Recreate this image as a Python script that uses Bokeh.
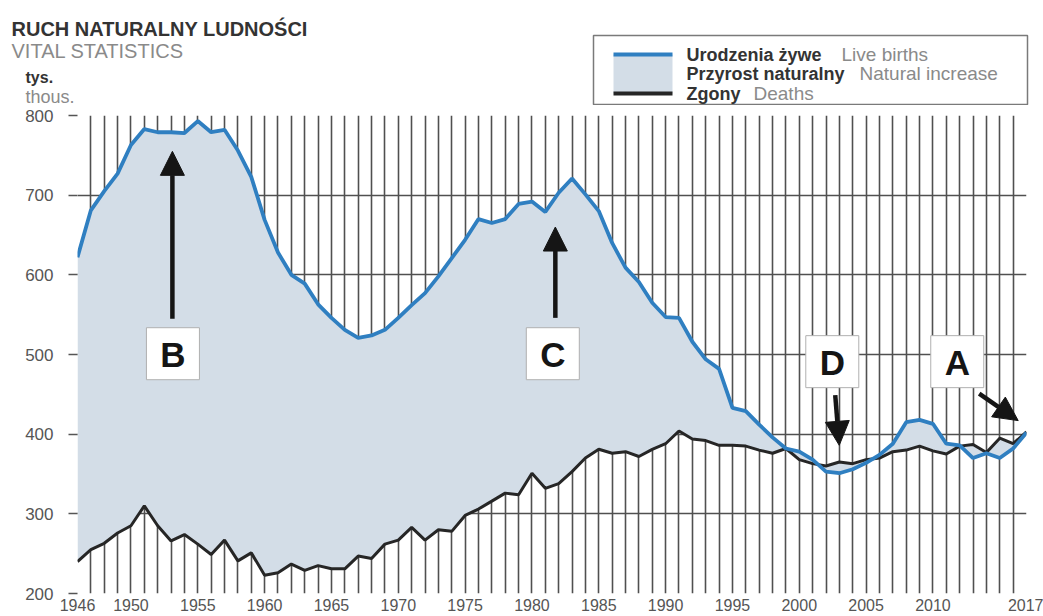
from bokeh.plotting import figure
from bokeh.models import (FixedTicker, Arrow, NormalHead, ColumnDataSource, Range1d)
from bokeh.layouts import column
from bokeh.embed import file_html
from bokeh.resources import INLINE
from bokeh.core.properties import value

# ---------------- data (thousands) ----------------
years = list(range(1946, 2018))
births = [622, 681, 705, 727, 763, 783, 779, 779, 778, 793, 779, 782, 756, 723,
          669, 628, 600, 589, 563, 546, 531, 521, 524, 531, 546, 562, 577, 598,
          621, 644, 670, 665, 670, 689, 692, 679, 703, 721, 701, 680, 640, 609,
          591, 565, 547, 546, 516, 494, 482, 433, 429, 412, 396, 382, 378, 368,
          353, 351, 356, 364, 374, 388, 415, 418, 413, 388, 386, 370, 376, 370,
          382, 402]
deaths = [240, 255, 263, 276, 285, 310, 285, 266, 274, 262, 249, 267, 241, 251,
          223, 226, 237, 229, 235, 231, 231, 247, 244, 262, 267, 283, 267, 280,
          278, 298, 306, 316, 326, 324, 351, 332, 338, 353, 370, 381, 376, 378,
          372, 381, 388, 404, 394, 392, 386, 386, 385, 380, 376, 382, 368, 363,
          360, 365, 363, 368, 370, 378, 380, 385, 379, 375, 385, 387, 377, 395,
          388, 403]
x_tick_years = [1946, 1950, 1955, 1960, 1965, 1970, 1975, 1980, 1985, 1990,
                1995, 2000, 2005, 2010, 2017]
y_ticks = [200, 300, 400, 500, 600, 700, 800]

marker_labels = ["B", "C", "D", "A"]
marker_x = [1953.14, 1981.56, 2002.47, 2011.82]
marker_y = [501, 501, 491, 491]
arrow_x0 = [1953.1, 1981.75, 2002.69, 2013.46]
arrow_y0 = [545, 546, 449, 451]
arrow_x1 = [1953.1, 1981.75, 2002.99, 2016.38]
arrow_y1 = [755, 660, 386, 417]

title_pl = "RUCH NATURALNY LUDNOŚCI"
title_en = "VITAL STATISTICS"
unit_pl = "tys."
unit_en = "thous."
legend_pl = ["Urodzenia żywe", "Przyrost naturalny", "Zgony"]
legend_en = ["Live births", "Natural increase", "Deaths"]

FILL = "#d3dde7"
BLUE = "#2f7fc1"
BLACK = "#262626"
GRID = "#505050"
FONT = "Liberation Sans"
DARK = "#333333"
GREY = "#8a8a8a"

W = 1043
HEAD_H = 105
MAIN_H = 616 - HEAD_H

# ---------------- header (title + legend), pixel coordinates ----------------
h = figure(width=W, height=HEAD_H, x_range=Range1d(0, W),
           y_range=Range1d(HEAD_H, 0), x_axis_type=None, y_axis_type=None,
           output_backend="svg", toolbar_location=None, min_border=0)
h.outline_line_color = None
h.grid.visible = False
h.frame_align = False


def htext(x, y, text, size, color, bold=False, baseline="alphabetic"):
    h.text(x=[x], y=[y], text=[text], text_font=value(FONT),
           text_font_size=size, text_color=color,
           text_font_style="bold" if bold else "normal",
           text_baseline=baseline, text_align="left")


htext(11, 28, title_pl, "20px", DARK, bold=True)
htext(11, 50, title_en, "20px", GREY)
htext(25, 77, unit_pl, "16px", DARK, bold=True)
htext(25, 96, unit_en, "18px", GREY)

# legend box
h.quad(left=[593], right=[1027], top=[35], bottom=[104],
       fill_color="white", line_color="#7a7a7a", line_width=1.5)
h.quad(left=[613], right=[672], top=[54], bottom=[93],
       fill_color=FILL, line_color=None)
h.quad(left=[613], right=[672], top=[52], bottom=[56],
       fill_color=BLUE, line_color=None)
h.quad(left=[613], right=[672], top=[91], bottom=[95],
       fill_color=BLACK, line_color=None)

leg_y = [54, 73, 93]
leg_en_x = [841, 859, 753]
for t_pl, t_en, yy, xe in zip(legend_pl, legend_en, leg_y, leg_en_x):
    htext(686, yy, t_pl, "18px", DARK, bold=True, baseline="middle")
    htext(xe, yy, t_en, "19px", GREY, baseline="middle")

# ---------------- main chart ----------------
p = figure(width=W, height=MAIN_H, x_range=Range1d(1946, 2017),
           y_range=Range1d(200, 800), output_backend="svg",
           toolbar_location=None, min_border_left=77, min_border_right=17,
           min_border_top=10, min_border_bottom=23)
p.outline_line_color = None
p.frame_align = False

p.xgrid.ticker = FixedTicker(ticks=years)
p.ygrid.ticker = FixedTicker(ticks=y_ticks)
for g in (p.xgrid, p.ygrid):
    g.grid_line_color = GRID
    g.grid_line_width = 1.6

p.xaxis.ticker = FixedTicker(ticks=x_tick_years)
p.xaxis.axis_line_color = None
p.xaxis.major_tick_line_color = None
p.xaxis.minor_tick_line_color = None
p.xaxis.major_tick_out = 0
p.xaxis.major_label_standoff = 5
p.xaxis.major_label_text_font = FONT
p.xaxis.major_label_text_font_size = "16px"
p.xaxis.major_label_text_color = "#555555"

p.yaxis.ticker = FixedTicker(ticks=y_ticks)
p.yaxis.axis_line_color = None
p.yaxis.minor_tick_line_color = None
p.yaxis.major_tick_out = 9
p.yaxis.major_tick_in = 0
p.yaxis.major_tick_line_color = "#555555"
p.yaxis.major_tick_line_width = 1.5
p.yaxis.major_label_standoff = 15
p.yaxis.major_label_text_font = FONT
p.yaxis.major_label_text_font_size = "17px"
p.yaxis.major_label_text_color = "#555555"

src = ColumnDataSource(dict(year=years, births=births, deaths=deaths))
p.varea(x="year", y1="deaths", y2="births", source=src, fill_color=FILL)
p.line(x="year", y="deaths", source=src, line_color=BLACK, line_width=3)
p.line(x="year", y="births", source=src, line_color=BLUE, line_width=3.8)

msrc = ColumnDataSource(dict(x=marker_x, y=marker_y, t=marker_labels))
p.rect(x="x", y="y", width=53, height=52, width_units="screen",
       height_units="screen", source=msrc, fill_color="white",
       line_color="#b0b0b0", line_width=1)
p.text(x="x", y="y", text="t", source=msrc, text_align="center",
       text_baseline="middle", text_font=value(FONT), text_font_size="35px",
       text_font_style="bold", text_color="#151515", y_offset=1)

for xs, ys, xe, ye in zip(arrow_x0, arrow_y0, arrow_x1, arrow_y1):
    p.add_layout(Arrow(end=NormalHead(size=24, fill_color="#151515",
                                      line_color="#151515"),
                       x_start=xs, y_start=ys, x_end=xe, y_end=ye,
                       line_width=4.5, line_color="#151515"))

layout = column(h, p, spacing=0)
open("out.html", "w").write(file_html(layout, INLINE))
